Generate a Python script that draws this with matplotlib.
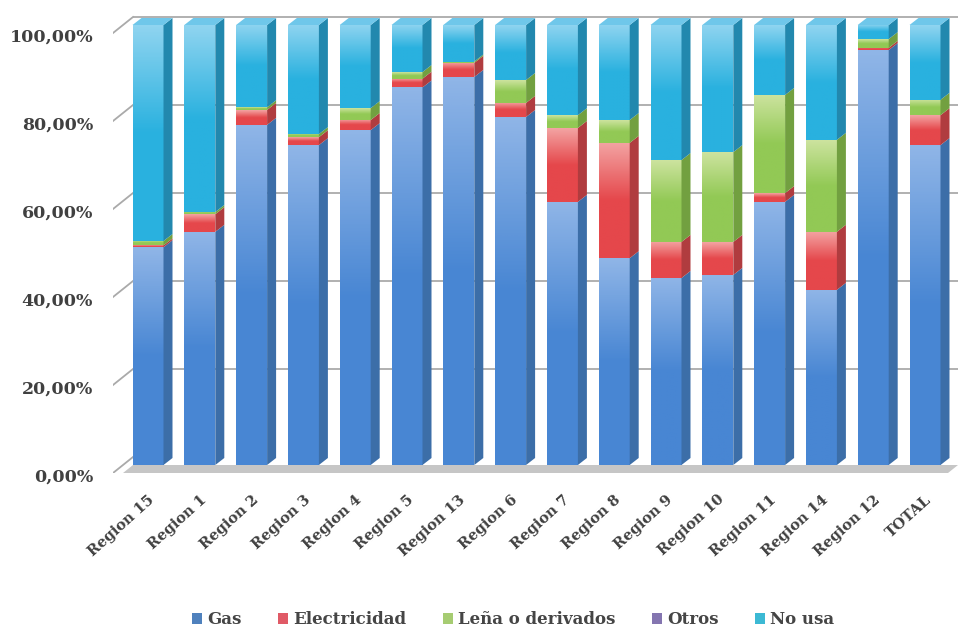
import numpy as np
import matplotlib
matplotlib.use("Agg")
import matplotlib.pyplot as plt
from matplotlib.patches import Polygon, Rectangle
from matplotlib.colors import LinearSegmentedColormap

categories = ["Region 15", "Region 1", "Region 2", "Region 3", "Region 4",
              "Region 5", "Region 13", "Region 6", "Region 7", "Region 8",
              "Region 9", "Region 10", "Region 11", "Region 14", "Region 12",
              "TOTAL"]
gas = [49.5, 53.0, 77.3, 72.7, 76.1, 85.8, 88.2, 79.1, 59.8, 47.0,
       42.5, 43.2, 59.8, 39.8, 94.3, 72.7]
electricidad = [0.4, 4.0, 3.4, 1.8, 2.3, 2.0, 3.2, 3.2, 16.8, 26.2,
                8.2, 7.5, 2.0, 13.2, 0.5, 6.8]
lena = [1.0, 0.5, 0.6, 0.7, 2.7, 1.5, 0.3, 5.2, 2.9, 5.2,
        18.6, 20.4, 22.3, 20.9, 2.0, 3.5]
otros = [0.0] * 16
no_usa = [49.1, 42.5, 18.7, 24.8, 18.9, 10.7, 8.3, 12.5, 20.5, 21.6,
          30.7, 28.9, 15.9, 26.1, 3.2, 17.0]

series_names = ["Gas", "Electricidad", "Leña o derivados", "Otros", "No usa"]
series_values = [gas, electricidad, lena, otros, no_usa]
y_ticks = [0, 20, 40, 60, 80, 100]

# (bottom colour, top colour, side colour, legend colour)
palette = [
    ("#4886d3", "#8fb5e7", "#3c6ea8", "#4f81bd"),
    ("#e5474b", "#f3a3a2", "#b03c3f", "#e05a66"),
    ("#92c955", "#cce39e", "#72a040", "#a6cc72"),
    ("#7d68b0", "#a898cf", "#5e4f8a", "#8475b0"),
    ("#29b1df", "#8fd4f0", "#2288ae", "#3cb9d4"),
]

W, H, DPI = 959, 643, 100
fig = plt.figure(figsize=(W / DPI, H / DPI), dpi=DPI)
fig.patch.set_facecolor("white")

# axes placed in pixel layout
ax_l, ax_r, ax_top, ax_bot = 113, 958, 15, 473
ax = fig.add_axes([ax_l / W, (H - ax_bot) / H, (ax_r - ax_l) / W, (ax_bot - ax_top) / H])
px_x = 51.8   # pixels per category step
px_y = 4.4    # pixels per percent
x0_px, y0_px = 148, 465   # pixel of bar 0 centre at 0 %
xlim = ((ax_l - x0_px) / px_x, (ax_r - x0_px) / px_x)
ylim = ((y0_px - ax_bot) / px_y, (y0_px - ax_top) / px_y)

# half of the chart depth, in data units
DX = 10 / px_x
DY = 8 / px_y
# bar depth
BDX = 9 / px_x
BDY = 7 / px_y
bar_w = 31 / px_x

grid_c = "#aaaaaa"
xl, xr = xlim

# floor
floor = Polygon([(xl, -2 * DY), (xr - 2 * DX, -2 * DY), (xr, 0.0), (xl + 2 * DX, 0.0)],
                closed=True, facecolor="#c6c6c6", edgecolor="none", zorder=1)
ax.add_patch(floor)
floor_edge = Polygon([(xl, -2 * DY), (xr - 2 * DX, -2 * DY), (xr - 2 * DX, -2 * DY - 0.6),
                      (xl, -2 * DY - 0.6)], closed=True, facecolor="#a0a0a0",
                     edgecolor="none", zorder=1)
ax.add_patch(floor_edge)

# back wall grid lines, side wall ticks and value labels
for v in y_ticks:
    yb = v + DY
    yf = v - DY
    if v > 0:
        ax.plot([xl + 2 * DX, xr], [yb, yb], color=grid_c, lw=1.3, zorder=1,
                solid_capstyle="butt")
    ax.plot([xl, xl + 2 * DX], [yf, yb], color=grid_c, lw=1.3, zorder=1)
    ax.text(xl - 20 / px_x, yf - 1.0, f"{v},00%",
            ha="right", va="center", fontsize=12.5, fontweight="bold",
            family="DejaVu Serif", color="#404040")

# stacked bars with shading
x = np.arange(len(categories))
bottoms = np.zeros(len(categories))
grad = np.linspace(0, 1, 64).reshape(-1, 1)
for s, (name, vals) in enumerate(zip(series_names, series_values)):
    c_bot, c_top, c_side, _ = palette[s]
    cmap = LinearSegmentedColormap.from_list(name, [c_bot, c_bot, c_top])
    vals = np.asarray(vals, dtype=float)
    for i in range(len(categories)):
        h = vals[i]
        if h <= 0:
            continue
        b = bottoms[i]
        left = x[i] - bar_w / 2
        right = x[i] + bar_w / 2
        rect = Rectangle((left, b), bar_w, h, facecolor="none", edgecolor="none")
        ax.add_patch(rect)
        im = ax.imshow(grad, extent=[left, right, b, b + h], origin="lower",
                       cmap=cmap, aspect="auto", zorder=3, interpolation="bilinear")
        im.set_clip_path(rect)
        side = Polygon([(right, b), (right + BDX, b + BDY), (right + BDX, b + h + BDY),
                        (right, b + h)], closed=True, facecolor=c_side,
                       edgecolor="none", zorder=3)
        ax.add_patch(side)
    bottoms += vals

# top faces
for i in range(len(categories)):
    left = x[i] - bar_w / 2
    right = x[i] + bar_w / 2
    t = bottoms[i]
    ax.add_patch(Polygon([(left, t), (right, t), (right + BDX, t + BDY), (left + BDX, t + BDY)],
                         closed=True, facecolor="#6fc7ea", edgecolor="none", zorder=4))

ax.set_xlim(xlim)
ax.set_ylim(ylim)
for sp in ax.spines.values():
    sp.set_visible(False)
ax.set_yticks([])
ax.set_xticks(x)
ax.set_xticklabels(categories, rotation=42, ha="right", rotation_mode="anchor",
                   fontsize=10.5, fontweight="bold", family="DejaVu Serif", color="#404040")
ax.tick_params(axis="x", length=0, pad=14)

# legend
handles = [Rectangle((0, 0), 1, 1, facecolor=p[3], edgecolor="none") for p in palette]
leg = fig.legend(handles, series_names, loc="center", bbox_to_anchor=(513 / W, 1 - 620 / H),
                 ncol=5, frameon=False, handlelength=0.6, handleheight=0.6,
                 handletextpad=0.3, columnspacing=2.2,
                 prop={"family": "DejaVu Serif", "size": 12, "weight": "bold"})
for t in leg.get_texts():
    t.set_color("#454545")

fig.savefig("out.png", dpi=DPI, facecolor="white")
